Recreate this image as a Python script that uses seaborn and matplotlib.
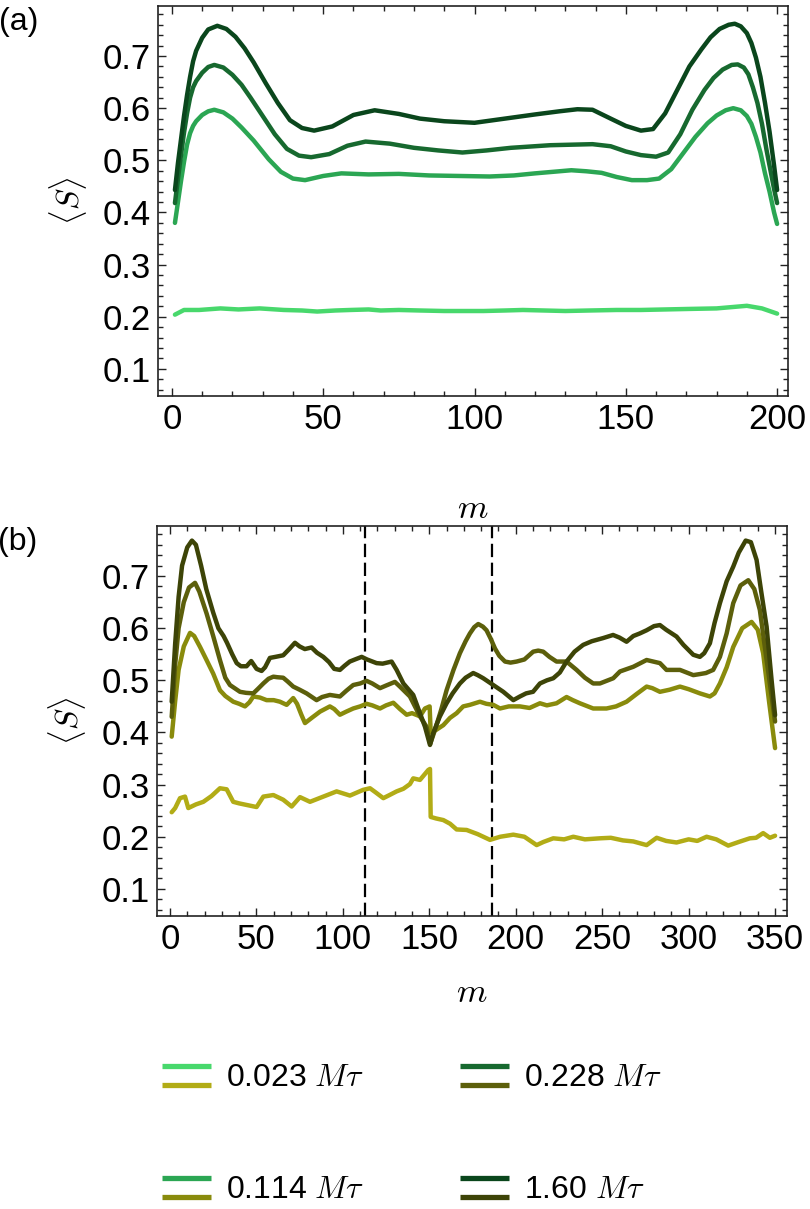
import pandas as pd
import seaborn as sns
import matplotlib.pyplot as plt
from matplotlib.lines import Line2D
from matplotlib.legend_handler import HandlerBase
from matplotlib.ticker import MultipleLocator

# Series labels (in units of M tau) and colours: green for (a), olive for (b)
taus = ['0.023', '0.114', '0.228', '1.60']
greens = ['#48d86c', '#2ba653', '#17692f', '#0a461c']
olives = ['#b2ac16', '#898b0c', '#5c5f0b', '#3d4407']

# ---- panel (a) ----
a_x_023 = [1, 4, 9, 16, 22, 29, 37, 43, 48, 54, 59, 65, 69, 75, 82, 90, 97, 103, 110, 116,
           123, 130, 138, 147, 155, 163, 171, 180, 186, 190, 195, 200]
a_y_023 = [0.204, 0.213, 0.213, 0.216, 0.214, 0.216, 0.213, 0.212, 0.210, 0.212, 0.213, 0.214,
           0.212, 0.213, 0.212, 0.211, 0.211, 0.211, 0.212, 0.213, 0.212, 0.211, 0.212, 0.213,
           0.213, 0.214, 0.215, 0.216, 0.219, 0.221, 0.216, 0.206]

a_x_114 = [1, 2, 3, 4, 5, 6, 7, 8, 10, 12, 14, 17, 20, 23, 27, 32, 36, 40, 44, 50, 56, 65, 75,
           85, 95, 105, 113, 120, 126, 132, 137, 142, 147, 152, 157, 161, 165, 169, 173, 177,
           180, 183, 185.5, 188, 190, 191.5, 193, 194.5, 196, 197.5, 199, 200]
a_y_114 = [0.380, 0.42, 0.46, 0.497, 0.53, 0.552, 0.566, 0.575, 0.587, 0.594, 0.597, 0.592,
           0.58, 0.563, 0.538, 0.502, 0.478, 0.465, 0.462, 0.470, 0.475, 0.473, 0.474, 0.471,
           0.470, 0.469, 0.471, 0.475, 0.478, 0.481, 0.479, 0.476, 0.468, 0.462, 0.462, 0.465,
           0.483, 0.514, 0.545, 0.571, 0.586, 0.596, 0.600, 0.596, 0.585, 0.57, 0.545, 0.515,
           0.475, 0.44, 0.40, 0.378]

a_x_228 = [1, 2, 3, 4, 5, 6, 7, 8, 10, 12, 14, 17, 20, 23, 26, 30, 34, 38, 42, 46, 52, 58, 64,
           72, 80, 88, 96, 104, 112, 125, 139, 145, 150, 155, 160, 164, 168, 172, 176, 179, 182,
           185, 187, 189, 190.5, 192, 193.5, 195, 196.5, 198, 199, 200]
a_y_228 = [0.418, 0.465, 0.51, 0.553, 0.59, 0.62, 0.64, 0.652, 0.668, 0.679, 0.683, 0.678,
           0.664, 0.645, 0.620, 0.585, 0.550, 0.522, 0.509, 0.506, 0.512, 0.528, 0.536, 0.532,
           0.524, 0.519, 0.515, 0.519, 0.524, 0.529, 0.531, 0.527, 0.517, 0.510, 0.507, 0.515,
           0.55, 0.597, 0.635, 0.658, 0.674, 0.683, 0.684, 0.678, 0.665, 0.64, 0.61, 0.57, 0.52,
           0.475, 0.445, 0.418]

a_x_160 = [1, 2, 3, 4, 5, 6, 7, 8, 10, 12, 15, 18, 21, 24, 27, 31, 35, 39, 43, 47, 53, 60, 67,
           75, 82, 90, 100, 110, 120, 128, 134, 139, 145, 150, 155, 159, 163, 167, 171, 175,
           178, 181, 184, 186, 188, 190, 191.5, 193, 194.5, 196, 197.5, 199, 200]
a_y_160 = [0.443, 0.495, 0.54, 0.585, 0.625, 0.66, 0.69, 0.71, 0.735, 0.751, 0.758, 0.752,
           0.737, 0.715, 0.688, 0.648, 0.610, 0.577, 0.562, 0.557, 0.565, 0.587, 0.596, 0.589,
           0.580, 0.575, 0.572, 0.580, 0.588, 0.594, 0.598, 0.597, 0.580, 0.566, 0.557, 0.560,
           0.59, 0.635, 0.68, 0.713, 0.736, 0.752, 0.760, 0.762, 0.757, 0.744, 0.725, 0.697,
           0.66, 0.61, 0.555, 0.49, 0.443]

# ---- panel (b) ----
b_x_023 = [1, 3, 5.8, 8.7, 10.6, 15, 19.3, 24, 28.9, 32.8, 36.6, 40, 44.3, 50.1, 54, 59.8, 65.5,
           70.4, 75.2, 81, 88.7, 96.4, 104.1, 111.8, 115.7, 119, 123.4, 127, 131.1, 135, 138.8,
           140.7, 144.6, 149.4, 150.4, 150.8, 154, 158.1, 162, 165.8, 171.6, 178, 185.1, 191,
           198.6, 205, 212.1, 216, 221.7, 228, 233.3, 240, 248.7, 255, 262, 268, 275.7, 281.5,
           287, 293, 300, 305, 310.4, 316, 322.9, 329, 335.4, 339, 343.1, 347, 350]
b_y_023 = [0.247, 0.255, 0.274, 0.277, 0.255, 0.262, 0.267, 0.278, 0.293, 0.291, 0.267, 0.264,
           0.261, 0.257, 0.277, 0.280, 0.271, 0.258, 0.276, 0.267, 0.277, 0.287, 0.279, 0.290,
           0.293, 0.285, 0.274, 0.280, 0.287, 0.292, 0.301, 0.312, 0.309, 0.328, 0.330, 0.238,
           0.235, 0.232, 0.225, 0.214, 0.213, 0.205, 0.194, 0.200, 0.204, 0.200, 0.184, 0.190,
           0.197, 0.195, 0.200, 0.195, 0.197, 0.198, 0.193, 0.191, 0.184, 0.198, 0.192, 0.189,
           0.195, 0.192, 0.200, 0.195, 0.183, 0.190, 0.197, 0.198, 0.207, 0.198, 0.202]

b_x_114 = [1, 3, 5, 8, 11.6, 14, 17.4, 21, 25, 28.9, 32, 36.6, 40, 43.4, 46, 48.2, 52, 55.9, 60,
           63.6, 67.5, 71.3, 73.5, 76, 78.1, 82, 86.8, 92.5, 95, 98.3, 102, 106, 110, 113.7, 117,
           121.5, 125, 129.2, 133, 136.9, 140, 144.6, 147.5, 150.2, 150.8, 154, 158.1, 162,
           165.8, 169.6, 173.5, 179.3, 183, 187, 190.9, 196, 202.4, 208, 214, 218, 223.6, 229.4,
           233, 237.1, 244.8, 252.5, 258, 264.1, 270, 275.7, 279, 283.4, 289, 295, 300, 306.5,
           312.3, 315, 318.1, 322, 325.8, 331, 336.4, 340, 343.1, 346.5, 350]
b_y_114 = [0.392, 0.46, 0.52, 0.565, 0.591, 0.585, 0.564, 0.54, 0.513, 0.481, 0.47, 0.459,
           0.455, 0.450, 0.458, 0.469, 0.467, 0.462, 0.462, 0.459, 0.453, 0.466, 0.455, 0.434,
           0.418, 0.428, 0.440, 0.450, 0.445, 0.434, 0.44, 0.446, 0.45, 0.455, 0.452, 0.446,
           0.452, 0.457, 0.445, 0.434, 0.437, 0.431, 0.446, 0.450, 0.400, 0.405, 0.414, 0.428,
           0.437, 0.450, 0.453, 0.459, 0.455, 0.453, 0.446, 0.45, 0.450, 0.447, 0.456, 0.452,
           0.456, 0.468, 0.462, 0.456, 0.446, 0.446, 0.45, 0.459, 0.474, 0.488, 0.485, 0.478,
           0.482, 0.488, 0.483, 0.475, 0.469, 0.475, 0.494, 0.525, 0.564, 0.600, 0.612, 0.597,
           0.552, 0.46, 0.370]

b_x_228 = [1, 3, 5, 8, 11, 14.5, 17, 21.2, 25, 28.9, 32, 34.7, 40.5, 44, 48.2, 51, 54, 57, 59.8,
           62, 65.5, 68, 71.3, 75, 79, 84.8, 88, 92.5, 98.3, 102, 106, 110, 113.7, 117, 121.5,
           125, 130.1, 133, 138.8, 144.6, 148.4, 150.5, 153.3, 157, 160, 164, 167.7, 171, 173.5,
           176, 178.3, 181, 183.1, 185.5, 188, 190.5, 193.8, 197, 200.5, 205, 210.1, 213, 215.9,
           219.5, 223.6, 229.4, 235.2, 240, 244.8, 248.7, 256.4, 260.3, 268, 275.7, 283.4,
           287.2, 295, 302.7, 306.5, 310, 314.2, 318.1, 322, 325.8, 330, 334.5, 338, 341.2,
           345.1, 348, 350]
b_y_228 = [0.430, 0.53, 0.60, 0.65, 0.678, 0.687, 0.67, 0.628, 0.585, 0.539, 0.505, 0.491,
           0.478, 0.476, 0.475, 0.484, 0.494, 0.503, 0.507, 0.506, 0.505, 0.498, 0.488, 0.482,
           0.475, 0.462, 0.468, 0.472, 0.469, 0.48, 0.491, 0.494, 0.499, 0.494, 0.485, 0.49,
           0.497, 0.488, 0.469, 0.431, 0.411, 0.378, 0.405, 0.445, 0.481, 0.52, 0.552, 0.575,
           0.590, 0.602, 0.608, 0.603, 0.596, 0.58, 0.561, 0.547, 0.536, 0.534, 0.536, 0.54,
           0.555, 0.557, 0.555, 0.545, 0.536, 0.536, 0.520, 0.505, 0.494, 0.494, 0.504, 0.517,
           0.526, 0.539, 0.533, 0.520, 0.520, 0.510, 0.512, 0.514, 0.520, 0.545, 0.59, 0.648,
           0.682, 0.692, 0.675, 0.635, 0.539, 0.47, 0.421]

b_x_160 = [1, 3, 5, 7, 10, 12.7, 15, 18, 21, 25, 28, 31, 33, 36, 38.6, 41, 44.3, 47, 50.1, 53,
           55, 57.8, 61, 65.5, 69, 72.3, 75, 78, 81.9, 85, 88.7, 92, 95, 98.3, 101, 104, 107,
           110.9, 114, 119.5, 123, 128.2, 131.1, 135, 140.7, 144.6, 147.5, 150.4, 152.3, 156, 160,
           163.5, 167.7, 171, 175.4, 178, 181.2, 187, 192.8, 198.6, 202.4, 206, 210, 214, 218,
           221.7, 225.5, 229.4, 234, 239, 244, 250.5, 256.3, 260, 264.1, 268, 271.8, 275.7, 280,
           283.4, 287, 293, 297, 302.7, 306.5, 309, 312.3, 315, 318.1, 322, 325.8, 329, 333, 336,
           339.3, 342, 345.1, 348, 350]
b_y_160 = [0.459, 0.57, 0.66, 0.72, 0.755, 0.768, 0.76, 0.72, 0.675, 0.63, 0.60, 0.585, 0.572,
           0.55, 0.533, 0.527, 0.527, 0.537, 0.522, 0.518, 0.525, 0.543, 0.545, 0.548, 0.56,
           0.572, 0.565, 0.56, 0.563, 0.553, 0.545, 0.535, 0.522, 0.520, 0.528, 0.536, 0.54,
           0.545, 0.54, 0.533, 0.532, 0.536, 0.520, 0.494, 0.472, 0.437, 0.411, 0.376, 0.399,
           0.43, 0.456, 0.475, 0.494, 0.505, 0.514, 0.51, 0.504, 0.491, 0.478, 0.462, 0.469,
           0.475, 0.478, 0.494, 0.50, 0.504, 0.515, 0.536, 0.555, 0.568, 0.575, 0.581, 0.587,
           0.582, 0.574, 0.585, 0.590, 0.596, 0.604, 0.606, 0.597, 0.584, 0.568, 0.549, 0.545,
           0.552, 0.571, 0.61, 0.648, 0.69, 0.718, 0.745, 0.768, 0.765, 0.731, 0.67, 0.603, 0.50,
           0.433]

dash_positions = [113, 186]


def long_form(xs, ys):
    parts = [pd.DataFrame({'m': x, 'S': y, 'tau': t}) for x, y, t in zip(xs, ys, taus)]
    return pd.concat(parts, ignore_index=True)


df_a = long_form([a_x_023, a_x_114, a_x_228, a_x_160], [a_y_023, a_y_114, a_y_228, a_y_160])
df_b = long_form([b_x_023, b_x_114, b_x_228, b_x_160], [b_y_023, b_y_114, b_y_228, b_y_160])

sns.set_style('ticks')
plt.rcParams['font.family'] = ['Liberation Sans', 'DejaVu Sans']
plt.rcParams['mathtext.fontset'] = 'cm'
for key in ('text.color', 'axes.labelcolor', 'xtick.color', 'ytick.color'):
    plt.rcParams[key] = 'black'

fig = plt.figure(figsize=(8.1, 12.09), dpi=100)
ax_a = fig.add_axes([158 / 810, 1 - 396 / 1209, 630 / 810, 390 / 1209])
ax_b = fig.add_axes([157 / 810, 1 - 916 / 1209, 630 / 810, 390 / 1209])

sns.lineplot(data=df_a, x='m', y='S', hue='tau', palette=dict(zip(taus, greens)),
             estimator=None, sort=False, lw=3.2, legend=False, ax=ax_a)
sns.lineplot(data=df_b, x='m', y='S', hue='tau', palette=dict(zip(taus, olives)),
             estimator=None, sort=False, lw=3.2, legend=False, ax=ax_b)
for xv in dash_positions:
    ax_b.axvline(xv, color='black', lw=1.6, dashes=(6, 2.5), zorder=1)

ax_a.set_xlim(-4.6, 203.6)
ax_b.set_xlim(-7.5, 356.9)
for ax, tag in ((ax_a, '(a)'), (ax_b, '(b)')):
    ax.set_ylim(0.048, 0.796)
    ax.xaxis.set_major_locator(MultipleLocator(50))
    ax.xaxis.set_minor_locator(MultipleLocator(10))
    ax.yaxis.set_major_locator(MultipleLocator(0.1))
    ax.yaxis.set_minor_locator(MultipleLocator(0.02))
    ax.tick_params(which='both', direction='in', top=True, right=True, width=1.0,
                   color='#222222', labelsize=25, pad=5)
    ax.tick_params(which='major', length=6)
    ax.tick_params(which='minor', length=3.5)
    ax.set_yticks([0.1, 0.2, 0.3, 0.4, 0.5, 0.6, 0.7])
    for sp in ax.spines.values():
        sp.set_visible(True)
        sp.set_linewidth(1.2)
        sp.set_color('#222222')
    ax.set_xlabel(r'$m$', fontsize=25)
    ax.set_ylabel(r'$\langle S\rangle$', fontsize=23)
    ax.yaxis.set_label_coords(-0.11, 0.5)
    ax.text(-0.252, 0.96, tag, transform=ax.transAxes, fontsize=23, ha='left', va='center')

ax_a.xaxis.set_label_coords(0.5, -0.245)
ax_b.xaxis.set_label_coords(0.5, -0.155)


class StackedLines(HandlerBase):
    def create_artists(self, legend, orig_handle, xdescent, ydescent, width, height,
                       fontsize, trans):
        mid = height / 2 - ydescent
        arts = []
        for h, dy in ((orig_handle[0], 6.8), (orig_handle[1], -6.8)):
            ln = Line2D([-xdescent, -xdescent + width], [mid + dy, mid + dy],
                        color=h.get_color(), lw=h.get_linewidth(), solid_capstyle='butt')
            ln.set_transform(trans)
            arts.append(ln)
        return arts


handles = [(Line2D([], [], color=g, lw=3.8), Line2D([], [], color=o, lw=3.8))
           for g, o in zip(greens, olives)]
labels = [t + r' $M\tau$' for t in taus]
fig.legend(handles, labels, handler_map={tuple: StackedLines()}, ncol=2, frameon=False,
           loc='center', bbox_to_anchor=(412 / 810, 1 - 1133 / 1209), fontsize=23,
           handlelength=1.55, handleheight=1.0, handletextpad=0.45, columnspacing=3.0,
           labelspacing=2.5, borderpad=0)

fig.savefig('out.png', dpi=100)
